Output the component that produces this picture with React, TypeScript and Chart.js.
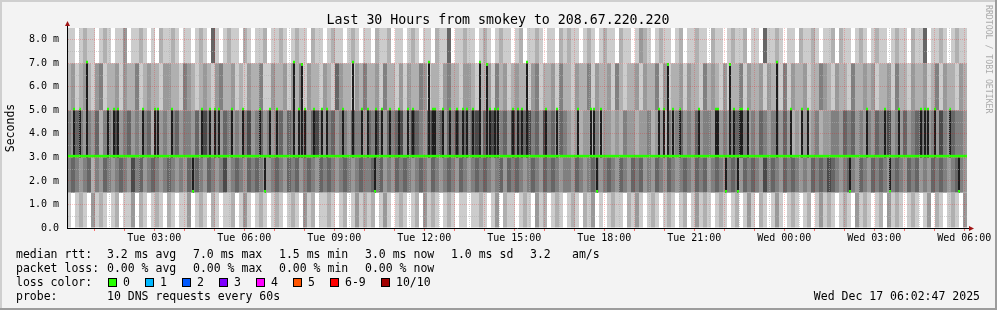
import React, { useEffect, useRef } from 'react';
import { Chart, registerables } from 'chart.js';

Chart.register(...registerables);

const WIDTH = 997;
const HEIGHT = 310;

const TITLE = 'Last 30 Hours from smokey to 208.67.220.220';
const Y_TITLE = 'Seconds';
const WATERMARK = 'RRDTOOL / TOBI OETIKER';
const TIMESTAMP = 'Wed Dec 17 06:02:47 2025';

// time axis (minutes since start of the 30h window)
const SPAN_MINUTES = 1800;
const COLUMN_MINUTES = 8;
const COLUMN_COUNT = 225;
const FIRST_HOUR_AT = 54.6;
const HOUR_TICK_COUNT = 30;
const xTickLabels = [
  'Tue 03:00', 'Tue 06:00', 'Tue 09:00', 'Tue 12:00', 'Tue 15:00',
  'Tue 18:00', 'Tue 21:00', 'Wed 00:00', 'Wed 03:00', 'Wed 06:00',
];

// value axis (ms)
const Y_MAX = 8.5;
const Y_STEP = 0.5;

// smoke: ping levels bounding each band, and a per-column shade code (0 = no smoke)
const bandLevels = [0, 1.5, 3.0, 5.0, 7.0, 8.5];
const smokeBand0 = [
  '1012103121012011302101210', '2101130121021011201310121', '0121012103120112101201312',
  '1201310121012031210121011', '0112101302110121031201210', '1210213010121102131012101',
  '2101201312101210120131021', '0131012101201312101210312', '1012031210121013021012103',
].join('');
const smokeBand1 = [
  '4543452435434543645345434', '5434354543543463454354543', '3454354534543545434543454',
  '4545343545434543543454354', '3454543453545434543545434', '4354345434543543545343543',
  '5434543545345434543545436', '4543545434354546543454354', '3545434543545343545434543',
].join('');
const smokeBand2 = [
  '4354343524436345343452434', '3453443536434354343463453', '4345354344356434534435443',
  '5464354563465435645354645', '4563546545364556453645354', '3232332423323243323342332',
  '4345343534435343453434354', '3443532323234233443545343', '4354463435345543436435443',
].join('');
const smokeBand3 = [
  '2312321341223132241232213', '3221432123213422312132241', '1322313241322132153221324',
  '2231422131322431221342213', '3212231423123221341223142', '2132241322314212231322413',
  '1223132214232131224132231', '3221413223122432132214223', '2312231422132231241322132',
].join('');
const smokeBand4 = [
  '1101211012101130112101021', '1210110121051012110210112', '0112101211021101211012101',
  '1021120110121011021150112', '1101210121101201121011021', '2110121012110211013210121',
  '1012011211021101211201105', '1121011021121011202110121', '0121101211021150112101211',
].join('');
const smokeBands = [smokeBand0, smokeBand1, smokeBand2, smokeBand3, smokeBand4];

// median rtt: 3.0 ms most of the time, with samples elsewhere
const medianLevel = 3.0;
const medianUpValue = 5.0;
const medianUpMinutes = [
  14, 26, 82, 94, 102, 152, 176, 182, 210, 270, 286, 296, 304, 330, 352, 386, 406, 420,
  464, 476, 494, 510, 520, 552, 590, 602, 618, 630, 646, 664, 682, 692, 732, 736, 752,
  766, 780, 792, 800, 812, 846, 856, 862, 892, 902, 910, 958, 980, 1022, 1048, 1054,
  1068, 1184, 1194, 1212, 1226, 1264, 1298, 1302, 1334, 1346, 1350, 1362, 1448, 1470,
  1482, 1600, 1636, 1664, 1708, 1716, 1722, 1736, 1766,
];
const medianHighMinutes = [40, 454, 470, 572, 724, 826, 840, 920, 1202, 1326, 1420];
const medianHighValues = [7.0, 7.0, 6.9, 7.0, 7.0, 7.0, 6.9, 7.0, 6.9, 6.9, 7.0];
const medianLowValue = 1.5;
const medianLowMinutes = [252, 396, 616, 1060, 1318, 1342, 1566, 1646, 1784];

// legend content
const rttStats = ['3.2 ms avg', '7.0 ms max', '1.5 ms min', '3.0 ms now', '1.0 ms sd', '3.2', 'am/s'];
const lossStats = ['0.00 % avg', '0.00 % max', '0.00 % min', '0.00 % now'];
const lossLabels = ['0', '1', '2', '3', '4', '5', '6-9', '10/10'];
const lossColors = ['#26ff00', '#00b8ff', '#0059ff', '#7e00ff', '#ff00ff', '#ff5500', '#ff0000', '#a10000'];
const probeText = '10 DNS requests every 60s';

// styles
const MONO = '"DejaVu Sans Mono"';
const smokeColors = ['rgba(0,0,0,0)', '#cccccc', '#b0b0b0', '#999999', '#808080', '#666666', '#4a4a4a'];
const MEDIAN_COLOR = '#26ff00';
const DARK_COLOR = '#1e1e1e';
const MEDIAN_THICK = 0.11;
const ARROW_COLOR = '#a01414';
const MAJOR_GRID = 'rgba(255,0,0,0.22)';
const MINOR_GRID = 'rgba(175,175,175,0.55)';
const rttX = [107, 193, 279, 365, 451, 530, 572];
const lossX = [107, 193, 279, 365];
const boxX = [108, 145, 182, 219, 256, 293, 330, 381];

const xTicks: number[] = [];
for (let k = 0; k < HOUR_TICK_COUNT; k++) {
  const h = FIRST_HOUR_AT + 60 * k;
  if (h - 30 >= 0) xTicks.push(h - 30);
  xTicks.push(h);
}
const hourIndex = (v: number) => (v - FIRST_HOUR_AT) / 60;
const isHour = (v: number) => {
  const d = hourIndex(v);
  return Math.abs(d - Math.round(d)) < 1e-6;
};
const colCenters = Array.from({ length: COLUMN_COUNT }, (_, i) => COLUMN_MINUTES * i + COLUMN_MINUTES / 2);

function xLabel(v: number) {
  if (!isHour(v)) return '';
  const k = Math.round(hourIndex(v)) + 1;
  return k % 3 === 0 ? xTickLabels[k / 3 - 1] || '' : '';
}

function shadeAt(codes: string, i: number) {
  const c = codes.charCodeAt(i) - 48;
  return c >= 0 && c < smokeColors.length ? smokeColors[c] : smokeColors[1];
}

function buildDatasets() {
  const common = { type: 'bar', stack: 's', borderWidth: 0, inflateAmount: 0 };
  const smoke = smokeBands.map((codes, b) => ({
    ...common,
    label: 'smoke' + b,
    order: 10,
    barThickness: 4,
    data: colCenters.map((x) => ({ x, y: [bandLevels[b], bandLevels[b + 1]] })),
    backgroundColor: colCenters.map((_, i) => shadeAt(codes, i)),
  }));
  const darkData = [
    ...medianUpMinutes.map((x) => ({ x, y: [medianLevel, medianUpValue] })),
    ...medianHighMinutes.map((x, i) => ({ x, y: [medianLevel, medianHighValues[i]] })),
    ...medianLowMinutes.map((x) => ({ x, y: [medianLowValue, medianLevel] })),
  ].sort((a, b) => a.x - b.x);
  const blipData = [
    ...medianUpMinutes.map((x) => ({ x, y: [medianUpValue, medianUpValue + MEDIAN_THICK] })),
    ...medianHighMinutes.map((x, i) => ({ x, y: [medianHighValues[i], medianHighValues[i] + MEDIAN_THICK] })),
    ...medianLowMinutes.map((x) => ({ x, y: [medianLowValue, medianLowValue + MEDIAN_THICK] })),
  ].sort((a, b) => a.x - b.x);
  return [
    ...smoke,
    { ...common, label: 'dark', order: 5, barThickness: 2, data: darkData, backgroundColor: DARK_COLOR },
    {
      ...common, label: 'median', order: 3, barThickness: 4,
      data: colCenters.map((x) => ({ x, y: [medianLevel, medianLevel + MEDIAN_THICK] })),
      backgroundColor: MEDIAN_COLOR,
    },
    { ...common, label: 'medianBlips', order: 1, barThickness: 2, data: blipData, backgroundColor: MEDIAN_COLOR },
  ];
}

const decor = {
  id: 'decor',
  beforeDraw(chart: any) {
    const { ctx, chartArea: a } = chart;
    ctx.save();
    ctx.fillStyle = '#f3f3f3';
    ctx.fillRect(0, 0, WIDTH, HEIGHT);
    ctx.fillStyle = '#ffffff';
    ctx.fillRect(a.left, a.top, a.right - a.left, a.bottom - a.top);
    ctx.restore();
  },
  afterDraw(chart: any) {
    const { ctx, chartArea: a } = chart;
    ctx.save();
    // title
    ctx.fillStyle = '#000';
    ctx.font = `13.25px ${MONO}`;
    ctx.textAlign = 'center';
    ctx.textBaseline = 'alphabetic';
    ctx.fillText(TITLE, 498, 24);

    // axis extensions and arrows
    ctx.strokeStyle = '#000';
    ctx.lineWidth = 1;
    ctx.beginPath();
    ctx.moveTo(a.left + 0.5, a.top);
    ctx.lineTo(a.left + 0.5, a.top - 2);
    ctx.moveTo(a.right, a.bottom + 0.5);
    ctx.lineTo(a.right + 2, a.bottom + 0.5);
    ctx.stroke();
    ctx.fillStyle = ARROW_COLOR;
    ctx.beginPath();
    ctx.moveTo(a.left + 0.5, a.top - 7);
    ctx.lineTo(a.left + 3, a.top - 2);
    ctx.lineTo(a.left - 2, a.top - 2);
    ctx.closePath();
    ctx.fill();
    ctx.beginPath();
    ctx.moveTo(a.right + 7, a.bottom + 0.5);
    ctx.lineTo(a.right + 2, a.bottom - 2);
    ctx.lineTo(a.right + 2, a.bottom + 3);
    ctx.closePath();
    ctx.fill();

    // legend
    ctx.fillStyle = '#000';
    ctx.font = `11.5px ${MONO}`;
    ctx.textAlign = 'left';
    ctx.fillText('median rtt:', 16, 258);
    rttStats.forEach((t, i) => ctx.fillText(t, rttX[i], 258));
    ctx.fillText('packet loss:', 16, 272);
    lossStats.forEach((t, i) => ctx.fillText(t, lossX[i], 272));
    ctx.fillText('loss color:', 16, 286);
    lossLabels.forEach((t, i) => {
      const bx = boxX[i];
      ctx.fillStyle = lossColors[i];
      ctx.fillRect(bx, 278, 9, 9);
      ctx.strokeStyle = '#000';
      ctx.strokeRect(bx + 0.5, 278.5, 8, 8);
      ctx.fillStyle = '#000';
      ctx.fillText(t, bx + 15, 286);
    });
    ctx.fillText('probe:', 16, 300);
    ctx.fillText(probeText, 107, 300);
    ctx.textAlign = 'right';
    ctx.fillText(TIMESTAMP, 980, 300);

    // vertical watermark
    ctx.save();
    ctx.translate(988, 5);
    ctx.rotate(Math.PI / 2);
    ctx.font = `8.2px ${MONO}`;
    ctx.fillStyle = '#aaaaaa';
    ctx.textAlign = 'left';
    ctx.textBaseline = 'middle';
    ctx.fillText(WATERMARK, 0, 0);
    ctx.restore();

    // frame
    ctx.fillStyle = '#cfcfcf';
    ctx.fillRect(0, 0, WIDTH, 2);
    ctx.fillRect(0, 0, 2, HEIGHT);
    ctx.fillStyle = '#9c9c9c';
    ctx.fillRect(0, HEIGHT - 2, WIDTH, 2);
    ctx.fillRect(WIDTH - 2, 0, 2, HEIGHT);
    ctx.restore();
  },
};

function yLabel(v: number) {
  if (Math.abs(v % 1) > 1e-9) return '';
  return v === 0 ? '0.0' : v.toFixed(1) + ' m';
}

export default function App() {
  const ref = useRef<HTMLCanvasElement>(null);
  useEffect(() => {
    const canvas = ref.current;
    if (!canvas) return;
    const chart = new Chart(canvas, {
      type: 'bar',
      data: { datasets: buildDatasets() as any },
      options: {
        responsive: false,
        animation: false,
        devicePixelRatio: 1,
        events: [],
        layout: { padding: { top: 28, right: 30, left: 0, bottom: 0 } },
        plugins: { legend: { display: false }, tooltip: { enabled: false }, title: { display: false } },
        scales: {
          x: {
            type: 'linear',
            min: 0,
            max: SPAN_MINUTES,
            offset: false,
            afterFit(s: any) { s.height = 82; },
            afterBuildTicks(s: any) { s.ticks = xTicks.map((v) => ({ value: v })); },
            grid: {
              z: 1, offset: false, lineWidth: 1,
              color: (c: any) => (c.tick && isHour(c.tick.value) ? MAJOR_GRID : MINOR_GRID),
              drawTicks: true, tickLength: 3, tickBorderDash: [],
              tickColor: (c: any) => (c.tick && isHour(c.tick.value) ? 'rgba(255,0,0,0.55)' : 'rgba(0,0,0,0)'),
            },
            border: { display: true, color: '#000', width: 1, dash: [1, 1], z: 2 },
            ticks: {
              autoSkip: false, maxRotation: 0, minRotation: 0, padding: 1, color: '#000',
              font: { family: MONO, size: 10 },
              callback: (v: any) => xLabel(Number(v)),
            },
          },
          y: {
            type: 'linear',
            min: 0,
            max: Y_MAX,
            stacked: false,
            afterFit(s: any) { s.width = 67; },
            grid: {
              z: 1, drawTicks: false, lineWidth: 1,
              color: (c: any) => {
                const v = c.tick ? c.tick.value : 0;
                if (v === 0 || v === Y_MAX) return 'rgba(0,0,0,0)';
                return Math.abs(v % 1) < 1e-9 ? MAJOR_GRID : MINOR_GRID;
              },
            },
            border: { display: true, color: '#000', width: 1, dash: [1, 1], z: 2 },
            ticks: {
              stepSize: Y_STEP, autoSkip: false, padding: 8, color: '#000',
              font: { family: MONO, size: 10 },
              callback: (v: any) => yLabel(Number(v)),
            },
            title: {
              display: true, text: Y_TITLE, color: '#000',
              padding: { top: 4, bottom: 0 },
              font: { family: MONO, size: 11.5 },
            },
          },
        },
      } as any,
      plugins: [decor],
    });
    let alive = true;
    if ((document as any).fonts && (document as any).fonts.load) {
      (document as any).fonts.load(`11.5px ${MONO}`).then(() => { if (alive) chart.update(); }).catch(() => {});
    }
    return () => { alive = false; chart.destroy(); };
  }, []);
  return (
    <div style={{ position: 'absolute', left: 0, top: 0, width: WIDTH, height: HEIGHT }}>
      <canvas ref={ref} width={WIDTH} height={HEIGHT} style={{ display: 'block', width: WIDTH, height: HEIGHT }} />
    </div>
  );
}
